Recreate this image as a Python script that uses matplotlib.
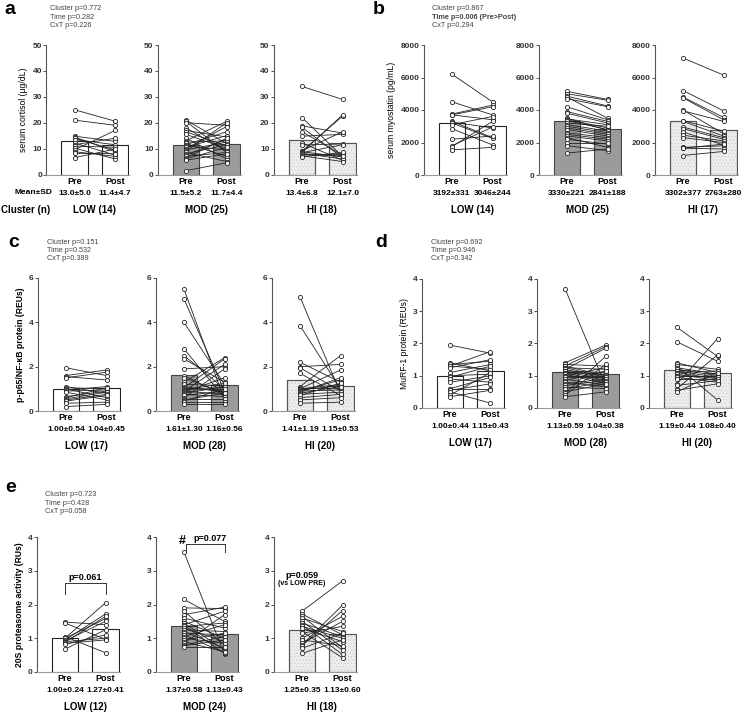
import matplotlib
matplotlib.use('Agg')
import matplotlib.pyplot as plt

plt.rcParams['font.family'] = ['Liberation Sans', 'DejaVu Sans']
plt.rcParams['hatch.linewidth'] = 0.4

# ---- panel a : serum cortisol (ug/dL)
a_low_pre = [25, 21, 14.8, 14.5, 14, 13.5, 12.2, 11.5, 11, 10.2, 9.5, 8.8, 8.2, 6.5]
a_low_post = [20.6, 19, 12.8, 8.8, 9.5, 11.5, 7.5, 14, 10.5, 6, 17, 7, 8, 9.8]
a_mod_pre = [21, 20.5, 20, 18, 17, 16.5, 15.5, 14, 13, 12.5, 12, 11.5, 11, 10.5, 10, 9.5, 9, 8.5, 8, 7.5, 7, 6.5, 6, 5.5, 1.5]
a_mod_post = [12, 8.5, 19, 9, 14.5, 11, 10, 6, 20.5, 13, 7, 16.5, 9.5, 15, 18.5, 12.5, 20, 5, 11.5, 13.5, 8.5, 14, 10.5, 8, 4.5]
a_hi_pre = [34, 22, 18.8, 18.2, 16.5, 14.8, 12.2, 11.4, 9.2, 9, 8.8, 8.6, 8.4, 8.2, 8, 7.6, 7.2, 6.8]
a_hi_post = [29, 7, 16, 6.5, 7.5, 15.5, 5.5, 11.8, 16.5, 22.5, 6.8, 23, 11.5, 6, 8, 7.2, 5, 8.5]
a_mean = [(13.0, 11.4), (11.5, 11.7), (13.4, 12.1)]
a_sd = [(5.0, 4.7), (5.2, 4.4), (6.8, 7.0)]

# ---- panel b : serum myostatin (pg/mL)
b_low_pre = [6200, 4500, 3750, 3700, 3700, 3300, 3250, 3200, 2850, 2200, 1800, 1750, 1550, 3100]
b_low_post = [4500, 3700, 4300, 3400, 4200, 2300, 2900, 2250, 1850, 2400, 2950, 3300, 1700, 3600]
b_mod_pre = [5150, 5000, 4850, 4800, 4700, 4200, 3900, 3800, 3500, 3450, 3400, 3350, 3200, 3100, 3000, 2900, 2800, 2600, 2500, 2400, 2300, 2200, 2000, 1800, 1350]
b_mod_post = [4650, 4600, 4250, 3500, 4200, 3400, 3300, 3200, 2750, 3100, 2900, 2800, 3000, 2700, 2600, 2500, 2400, 2300, 2200, 2100, 1700, 1900, 2000, 1500, 1600]
b_hi_pre = [7200, 5200, 4800, 4750, 4000, 3950, 3350, 3300, 2950, 2850, 2650, 2450, 2300, 1700, 1650, 1650, 1200]
b_hi_post = [6150, 3950, 3550, 3400, 2550, 3300, 2700, 2400, 2300, 2200, 1850, 2100, 2000, 1800, 1900, 1600, 1450]
b_mean = [(3192, 3046), (3330, 2841), (3302, 2763)]
b_sd = [(331, 244), (221, 188), (377, 280)]

# ---- panel c : p-p65/NF-kB protein (REUs)
c_low_pre = [1.95, 1.6, 1.55, 1.5, 1.1, 1.05, 1.0, 0.95, 0.9, 0.85, 0.65, 0.6, 0.55, 0.5, 0.45, 0.35, 0.2]
c_low_post = [1.6, 1.85, 1.4, 1.75, 0.8, 1.0, 0.6, 1.1, 0.95, 0.5, 0.9, 1.05, 0.85, 0.75, 0.7, 0.4, 0.3]
c_mod_pre = [5.5, 5.05, 4.0, 2.8, 2.5, 2.35, 1.9, 1.6, 1.5, 1.3, 1.2, 1.1, 1.05, 1.0, 1.0, 0.95, 0.9, 0.9, 0.85, 0.8, 0.75, 0.7, 0.6, 0.55, 0.5, 0.45, 0.4, 0.3]
c_mod_post = [0.5, 0.9, 1.2, 0.6, 1.0, 1.3, 2.0, 0.7, 0.8, 2.4, 1.15, 0.85, 2.35, 1.05, 0.95, 1.25, 2.1, 0.75, 1.5, 1.1, 0.65, 0.9, 1.9, 0.55, 0.8, 1.0, 0.4, 0.3]
c_hi_pre = [5.15, 3.85, 2.2, 2.0, 1.95, 1.7, 1.1, 1.05, 1.0, 1.0, 0.95, 0.9, 0.9, 0.85, 0.8, 0.75, 0.7, 0.6, 0.5, 0.35]
c_hi_post = [0.8, 1.0, 1.3, 2.1, 0.9, 0.7, 2.5, 1.05, 1.2, 1.85, 1.15, 1.4, 0.95, 1.5, 1.1, 0.85, 1.25, 0.75, 0.6, 0.4]
c_mean = [(1.00, 1.04), (1.61, 1.16), (1.41, 1.15)]
c_sd = [(0.54, 0.45), (1.30, 0.56), (1.19, 0.53)]

# ---- panel d : MuRF-1 protein (REUs)
d_low_pre = [1.95, 1.4, 1.35, 1.3, 1.3, 1.25, 1.1, 1.0, 0.95, 0.9, 0.8, 0.6, 0.6, 0.55, 0.5, 0.4, 0.35]
d_low_post = [1.7, 1.15, 1.45, 1.75, 1.2, 1.5, 1.35, 1.05, 1.3, 0.8, 1.0, 0.95, 0.6, 0.75, 0.15, 1.1, 0.55]
d_mod_pre = [3.7, 1.4, 1.35, 1.3, 1.3, 1.25, 1.25, 1.2, 1.2, 1.15, 1.15, 1.1, 1.1, 1.05, 1.0, 1.0, 0.95, 0.9, 0.85, 0.8, 0.75, 0.7, 0.65, 0.6, 0.5, 0.45, 0.4, 0.35]
d_mod_post = [0.7, 1.95, 1.3, 1.0, 1.9, 0.95, 1.2, 0.9, 1.85, 0.85, 1.1, 0.8, 1.05, 0.75, 1.25, 1.0, 0.95, 0.7, 1.15, 0.65, 0.9, 0.85, 0.6, 0.8, 0.75, 1.6, 1.35, 0.5]
d_hi_pre = [2.5, 2.05, 1.4, 1.35, 1.3, 1.25, 1.2, 1.15, 1.1, 1.1, 1.05, 1.0, 1.0, 0.95, 0.9, 0.75, 0.7, 0.6, 0.55, 0.5]
d_hi_post = [1.6, 1.45, 1.1, 1.2, 0.25, 1.05, 1.0, 0.95, 1.15, 0.9, 0.85, 1.0, 0.95, 0.8, 0.9, 2.15, 0.85, 1.65, 0.75, 1.1]
d_mean = [(1.00, 1.15), (1.13, 1.04), (1.19, 1.08)]
d_sd = [(0.44, 0.43), (0.59, 0.38), (0.44, 0.40)]

# ---- panel e : 20S proteasome activity (RUs)
e_low_pre = [1.48, 1.45, 1.05, 1.0, 1.0, 0.95, 0.92, 0.9, 0.88, 0.85, 0.82, 0.68]
e_low_post = [1.4, 0.97, 0.57, 2.05, 1.58, 1.72, 1.5, 1.0, 1.65, 0.95, 1.1, 1.25]
e_mod_pre = [3.55, 2.15, 1.9, 1.8, 1.7, 1.6, 1.5, 1.45, 1.4, 1.38, 1.35, 1.3, 1.25, 1.2, 1.15, 1.1, 1.05, 1.0, 0.95, 0.9, 0.85, 0.8, 0.78, 0.75]
e_mod_post = [0.52, 1.5, 1.88, 0.8, 1.92, 1.3, 1.0, 0.65, 1.8, 0.55, 1.45, 0.9, 1.2, 0.7, 1.1, 0.57, 1.4, 0.85, 1.15, 0.6, 1.7, 1.05, 0.95, 0.75]
e_hi_pre = [1.8, 1.72, 1.65, 1.6, 1.5, 1.45, 1.4, 1.35, 1.3, 1.2, 1.15, 1.0, 0.95, 0.85, 0.8, 0.78, 0.7, 0.55]
e_hi_post = [2.7, 1.1, 0.72, 1.2, 0.65, 1.05, 0.52, 1.0, 0.9, 0.42, 1.35, 1.65, 0.78, 1.5, 1.98, 1.82, 1.15, 0.95]
e_mean = [(1.00, 1.27), (1.37, 1.13), (1.25, 1.13)]
e_sd = [(0.24, 0.41), (0.58, 0.43), (0.35, 0.60)]

groups = ['LOW', 'MOD', 'HI']
times = ['Pre', 'Post']

W, H = 750, 712
U = 40.5          # px between Pre and Post
XL = (-0.7, 1.35)

fig = plt.figure(figsize=(W / 100, H / 100), dpi=100)


def fx(x):
    return x / W


def fy(y):
    return 1 - y / H


def make_ax(pre_px, top_px, zero_px):
    left = pre_px + XL[0] * U
    width = (XL[1] - XL[0]) * U
    return fig.add_axes([fx(left), fy(zero_px), width / W, (zero_px - top_px) / H])


def draw_group(ax, pre, post, mean, sd, gi, ymax, ystep, fmt, n_label):
    face = ['white', '#9b9b9b', '#ededed'][gi]
    edge = ['#222222', '#444444', '#555555'][gi]
    ax.bar([0, 1], mean, width=0.65, color=face, edgecolor=edge, linewidth=0.8, zorder=1)
    if gi == 2:
        ax.bar([0, 1], mean, width=0.65, color='none', edgecolor='#c8c8c8',
               hatch='.....', linewidth=0, zorder=1)
        ax.bar([0, 1], mean, width=0.65, color='none', edgecolor=edge, linewidth=0.8, zorder=1)
    for p, q in zip(pre, post):
        ax.plot([0, 1], [p, q], color='#222222', lw=0.6, zorder=2)
    ax.plot([0] * len(pre), pre, 'o', ms=3, mfc='white', mec='#222222', mew=0.6, zorder=3)
    ax.plot([1] * len(post), post, 'o', ms=3, mfc='white', mec='#222222', mew=0.6, zorder=3)
    ax.set_xlim(*XL)
    ax.set_ylim(0, ymax)
    ticks = [ystep * i for i in range(int(round(ymax / ystep)) + 1)]
    ax.set_yticks(ticks)
    ax.set_yticklabels([f'{t:g}' for t in ticks], fontsize=6, fontweight='bold')
    ax.tick_params(axis='y', length=2, width=0.6, pad=1, colors='#333333')
    ax.set_xticks([])
    for s in ['top', 'right']:
        ax.spines[s].set_visible(False)
    ax.spines['left'].set_color('#555555')
    ax.spines['left'].set_linewidth(0.8)
    ax.spines['bottom'].set_color('#999999')
    ax.spines['bottom'].set_linewidth(0.8)
    ax.patch.set_alpha(0)
    for i in range(2):
        ax.annotate(times[i], xy=(i, 0), xycoords=('data', 'axes fraction'),
                    xytext=(0, -5), textcoords='offset points', ha='center', va='center',
                    fontsize=6.5, fontweight='bold')
        ax.annotate(fmt.format(mean[i]) + '\u00b1' + fmt.format(sd[i]), xy=(i, 0),
                    xycoords=('data', 'axes fraction'), xytext=(0, -13.5),
                    textcoords='offset points', ha='center', va='center',
                    fontsize=6, fontweight='bold')
    ax.annotate(n_label, xy=(0.5, 0), xycoords=('data', 'axes fraction'),
                xytext=(0, -25.5), textcoords='offset points', ha='center', va='center',
                fontsize=7, fontweight='bold')


def panel(letter, lx, ly, stats, sx, sy, bold_line, pre_pxs, top, zero,
          data, means, sds, ymax, ystep, fmt, ylabel, ylabel_bold):
    fig.text(fx(lx), fy(ly), letter, fontsize=14, fontweight='bold', ha='left', va='center')
    for k, s in enumerate(stats):
        fig.text(fx(sx), fy(sy + k * 8.3), s, fontsize=5.2, color='#444444',
                 fontweight='bold' if k == bold_line else 'normal', ha='left', va='center')
    axes = []
    for gi in range(3):
        ax = make_ax(pre_pxs[gi], top, zero)
        pre, post = data[gi]
        draw_group(ax, pre, post, means[gi], sds[gi], gi, ymax, ystep, fmt,
                   f'{groups[gi]} ({len(pre)})')
        axes.append(ax)
    axes[0].set_ylabel(ylabel, fontsize=6.2, labelpad=3,
                       fontweight='bold' if ylabel_bold else 'normal')
    return axes


# a
ax_a = panel('a', 4, 9, ['Cluster p=0.772', 'Time p=0.282', 'CxT p=0.226'], 50, 9, None,
             [74.5, 186, 302], 45, 174.5,
             [(a_low_pre, a_low_post), (a_mod_pre, a_mod_post), (a_hi_pre, a_hi_post)],
             a_mean, a_sd, 50, 10, '{:.1f}', 'serum cortisol (\u03bcg/dL)', False)
fig.text(fx(14), fy(193), 'Mean\u00b1SD', fontsize=6, fontweight='bold', ha='left', va='center')
fig.text(fx(1), fy(210), 'Cluster (n)', fontsize=7, fontweight='bold', ha='left', va='center')

# b
panel('b', 373, 9, ['Cluster p=0.867', 'Time p=0.006 (Pre>Post)', 'CxT p=0.294'], 432, 9, 1,
      [452, 567, 683], 45, 175,
      [(b_low_pre, b_low_post), (b_mod_pre, b_mod_post), (b_hi_pre, b_hi_post)],
      b_mean, b_sd, 8000, 2000, '{:.0f}', 'serum myostatin (pg/mL)', False)

# c
panel('c', 8, 243, ['Cluster p=0.151', 'Time p=0.532', 'CxT p=0.389'], 47, 242, None,
      [66, 184, 300], 278, 411,
      [(c_low_pre, c_low_post), (c_mod_pre, c_mod_post), (c_hi_pre, c_hi_post)],
      c_mean, c_sd, 6, 2, '{:.2f}', 'p-p65/NF-\u03baB protein (REUs)', True)

# d
panel('d', 375, 243, ['Cluster p=0.692', 'Time p=0.946', 'CxT p=0.342'], 431, 242, None,
      [450, 565, 677], 279, 408,
      [(d_low_pre, d_low_post), (d_mod_pre, d_mod_post), (d_hi_pre, d_hi_post)],
      d_mean, d_sd, 4, 1, '{:.2f}', 'MuRF-1 protein (REUs)', False)

# e
ax_e = panel('e', 5, 488, ['Cluster p=0.723', 'Time p=0.428', 'CxT p=0.058'], 45, 495, None,
             [65, 184, 302], 537, 672,
             [(e_low_pre, e_low_post), (e_mod_pre, e_mod_post), (e_hi_pre, e_hi_post)],
             e_mean, e_sd, 4, 1, '{:.2f}', '20S proteasome activity (RUs)', True)

# brackets and annotations in e
ax = ax_e[0]
ax.plot([0, 0, 1, 1], [2.3, 2.65, 2.65, 2.3], color='#333333', lw=0.7)
ax.text(0.5, 2.8, 'p=0.061', ha='center', va='center', fontsize=6.5, fontweight='bold')
ax = ax_e[1]
ax.plot([0.05, 0.05, 1, 1], [3.55, 3.78, 3.78, 3.55], color='#333333', lw=0.7)
ax.text(0.65, 3.95, 'p=0.077', ha='center', va='center', fontsize=6.5, fontweight='bold')
ax.text(-0.05, 3.88, '#', ha='center', va='center', fontsize=9, fontweight='bold')
ax = ax_e[2]
ax.text(0, 2.85, 'p=0.059', ha='center', va='center', fontsize=6.5, fontweight='bold')
ax.text(0, 2.63, '(vs LOW PRE)', ha='center', va='center', fontsize=5, fontweight='bold')

fig.savefig('out.png', dpi=100)
